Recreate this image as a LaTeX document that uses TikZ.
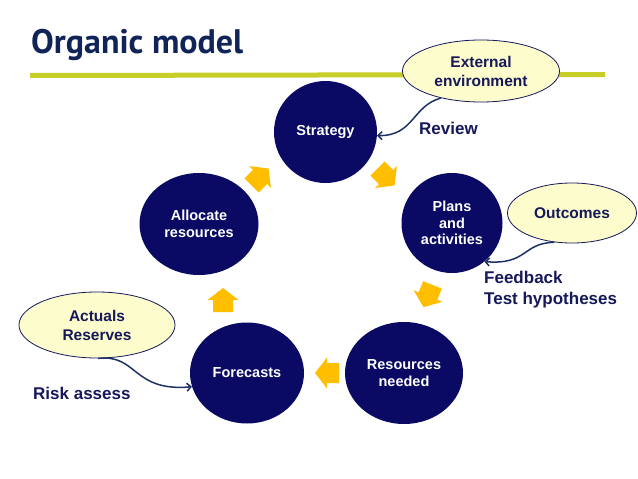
\documentclass[tikz,border=0pt]{standalone}
\usepackage{fontspec}
\setmainfont{Liberation Sans}
\newfontfamily\titlefont{PT Sans}
\usetikzlibrary{shapes.geometric,arrows.meta}
\definecolor{navy}{RGB}{10,10,100}
\definecolor{txtnavy}{RGB}{22,24,90}
\definecolor{titlenavy}{RGB}{16,36,88}
\definecolor{arrowyellow}{RGB}{255,190,0}
\definecolor{linegreen}{RGB}{200,206,40}
\definecolor{ellfill}{RGB}{253,252,204}
\definecolor{connblue}{RGB}{30,50,100}
\tikzset{
  disc/.style={ellipse, fill=navy, text=white, inner sep=0pt, align=center,
    font=\bfseries\fontsize{14.5}{16.5}\selectfont},
  bubble/.style={ellipse, draw=txtnavy, line width=0.8pt, fill=ellfill, inner sep=0pt,
    align=center, text=txtnavy, font=\bfseries\fontsize{15.5}{19}\selectfont},
  lbl/.style={text=txtnavy, inner sep=0pt, align=left,
    font=\bfseries\fontsize{17}{21}\selectfont},
  conn/.style={draw=connblue, line width=1.5pt, -{Straight Barb[length=4pt,width=8pt]}},
  pics/blockarrow/.style={code={
    \fill[arrowyellow] (-12,-10) -- (0,-10) -- (0,-15.5) -- (12,0) -- (0,15.5) -- (0,10) -- (-12,10) -- cycle;}}
}
\begin{document}
\begin{tikzpicture}[x=1pt,y=-1pt]
\useasboundingbox (0,0) rectangle (638,479);
\fill[white] (0,0) rectangle (638,479);

% title and rule
\node[anchor=base west, inner sep=0pt, text=titlenavy, font=\titlefont\bfseries\fontsize{34}{37}\selectfont] (title) at (31,53) {Organic model};
\draw[linegreen, line width=5pt] (30,75.5) -- (605,74.5);

% cycle discs
\node[disc, minimum width=103pt, minimum height=102pt] (strategy) at (325.5,132) {Strategy};
\node[disc, minimum width=101pt, minimum height=100pt] (plans) at (452,223) {Plans\\and\\activities};
\node[disc, minimum width=118pt, minimum height=102pt] (resources) at (404,373) {Resources\\needed};
\node[disc, minimum width=114pt, minimum height=101pt] (forecasts) at (247,373) {Forecasts};
\node[disc, minimum width=119pt, minimum height=102pt] (allocate) at (199,224) {Allocate\\resources};

% block arrows
\pic[rotate=45] at (260,177) {blockarrow};
\pic[rotate=-45] at (386,177) {blockarrow};
\pic[rotate=-112] at (428,296) {blockarrow};
\pic[rotate=180] at (327,373) {blockarrow};
\pic[rotate=90] at (223,300) {blockarrow};

% bubbles
\node[bubble, minimum width=157pt, minimum height=62pt] (ext) at (481,71) {External\\environment};
\node[bubble, minimum width=129pt, minimum height=60pt] (outc) at (572,213) {Outcomes};
\node[bubble, minimum width=156pt, minimum height=66pt] (act) at (97,325) {Actuals\\Reserves};

% labels
\node[lbl, anchor=west] (review) at (419,128) {Review};
\node[lbl, anchor=west] (feedback) at (484,290) {Feedback\\Test hypotheses};
\node[lbl, anchor=west] (risk) at (33,393) {Risk assess};

% connectors
\draw[conn] (ext.214) .. controls (412,106) and (414,136) .. (strategy.-4);
\draw[conn] (outc.239) .. controls (522,243) and (528,265) .. (plans.-50);
\draw[conn] (act.-88) .. controls (138,354) and (132,392) .. (forecasts.194);
\end{tikzpicture}
\end{document}
